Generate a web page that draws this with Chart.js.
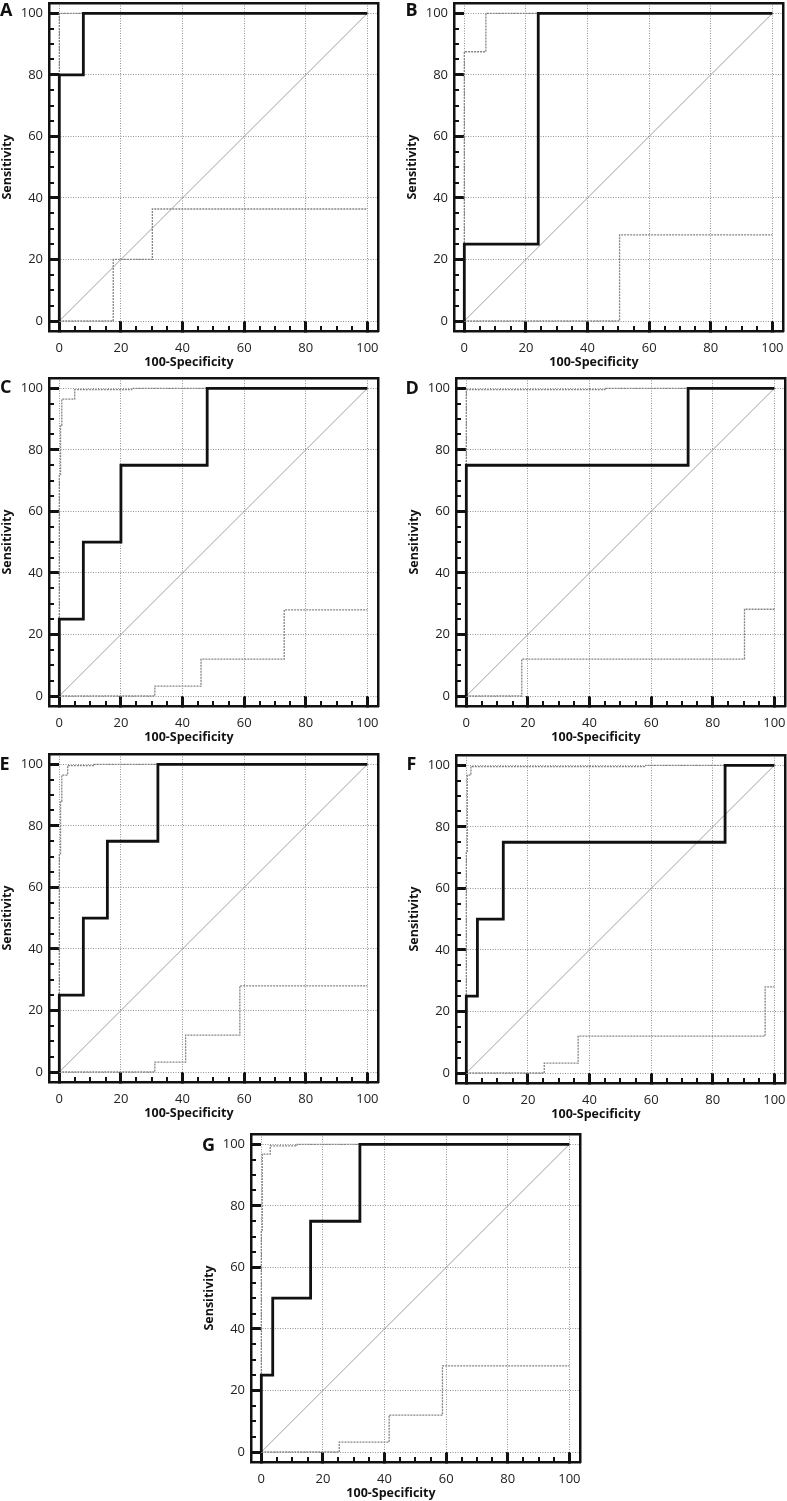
<!DOCTYPE html>
<html>
<head>
<meta charset="utf-8">
<script src="https://cdn.jsdelivr.net/npm/chart.js@4.4.1/dist/chart.umd.min.js"></script>
<style>
  html, body { margin: 0; padding: 0; background: #fff; width: 787px; height: 1501px; overflow: hidden; }
  .panel { position: absolute; }
  .tag { position: absolute; font: bold 18px/18px 'Open Sans', sans-serif; color: #111; }
</style>
</head>
<body>
<script>
// ROC points: [100-Specificity, Sensitivity]
const rocA = [[0, 0], [0, 80], [7.8, 80], [7.8, 100], [100, 100]];
const upA = [[0, 0], [0, 100], [100, 100]];
const loA = [[0, 0], [17.5, 0], [17.5, 20], [30.2, 20], [30.2, 36.4], [100, 36.4]];

const rocB = [[0, 0], [0, 25], [24, 25], [24, 100], [100, 100]];
const upB = [[0, 0], [0, 87.5], [7, 87.5], [7, 100], [100, 100]];
const loB = [[0, 0], [50.4, 0], [50.4, 28], [100, 28]];

const rocC = [[0, 0], [0, 25], [7.8, 25], [7.8, 50], [20, 50], [20, 75], [48, 75], [48, 100], [100, 100]];
const upC = [[0, 0], [0, 72], [0.4, 72], [0.4, 88], [0.8, 88], [0.8, 96.5], [5, 96.5], [5, 99.6], [23.5, 99.6], [23.5, 100], [100, 100]];
const loC = [[0, 0], [31, 0], [31, 3.2], [46, 3.2], [46, 12], [73, 12], [73, 28], [100, 28]];

const rocD = [[0, 0], [0, 75], [72, 75], [72, 100], [100, 100]];
const upD = [[0, 0], [0, 99.6], [45, 99.6], [45, 100], [100, 100]];
const loD = [[0, 0], [18, 0], [18, 12], [90.3, 12], [90.3, 28.2], [100, 28.2]];

const rocE = [[0, 0], [0, 25], [7.8, 25], [7.8, 50], [15.6, 50], [15.6, 75], [32, 75], [32, 100], [100, 100]];
const upE = [[0, 0], [0, 71], [0.4, 71], [0.4, 88], [0.8, 88], [0.8, 96.5], [2.7, 96.5], [2.7, 99.6], [11.4, 99.6], [11.4, 100], [100, 100]];
const loE = [[0, 0], [31, 0], [31, 3.2], [41, 3.2], [41, 12], [58.6, 12], [58.6, 28], [100, 28]];

const rocF = [[0, 0], [0, 25], [3.6, 25], [3.6, 50], [12, 50], [12, 75], [84, 75], [84, 100], [100, 100]];
const upF = [[0, 0], [0, 72], [0.3, 72], [0.3, 96.8], [1.5, 96.8], [1.5, 99.6], [58.2, 99.6], [58.2, 100], [100, 100]];
const loF = [[0, 0], [25.3, 0], [25.3, 3.2], [36.3, 3.2], [36.3, 12], [97, 12], [97, 28], [100, 28]];

const rocG = [[0, 0], [0, 25], [3.7, 25], [3.7, 50], [16, 50], [16, 75], [32, 75], [32, 100], [100, 100]];
const upG = [[0, 0], [0, 72], [0.3, 72], [0.3, 96.8], [2.9, 96.8], [2.9, 99.5], [11.6, 99.5], [11.6, 100], [100, 100]];
const loG = [[0, 0], [25.3, 0], [25.3, 3.2], [41.5, 3.2], [41.5, 12], [58.8, 12], [58.8, 28], [100, 28]];

const diagonal = [[0, 0], [100, 100]];

const tickValues = [0, 20, 40, 60, 80, 100];
const minorTickValues = [0, 5, 10, 15, 20, 25, 30, 35, 40, 45, 50, 55, 60, 65, 70, 75, 80, 85, 90, 95, 100];

const xTitle = '100-Specificity';
const yTitle = 'Sensitivity';

// panel placement (canvas top-left) and letter position
const panels = [
  { tag: 'A', left: 0, top: 0, tagX: 0, tagY: 0, roc: rocA, up: upA, lo: loA },
  { tag: 'B', left: 405, top: 0, tagX: 405.5, tagY: 0, roc: rocB, up: upB, lo: loB },
  { tag: 'C', left: 0, top: 375, tagX: 0, tagY: 377, roc: rocC, up: upC, lo: loC },
  { tag: 'D', left: 407, top: 375, tagX: 405.5, tagY: 378, roc: rocD, up: upD, lo: loD },
  { tag: 'E', left: 0, top: 751, tagX: -0.5, tagY: 754, roc: rocE, up: upE, lo: loE },
  { tag: 'F', left: 407, top: 752, tagX: 406.5, tagY: 754, roc: rocF, up: upF, lo: loF },
  { tag: 'G', left: 202, top: 1131, tagX: 202, tagY: 1135, roc: rocG, up: upG, lo: loG }
];

Chart.defaults.font.family = "'Open Sans', sans-serif";
Chart.defaults.color = '#222';

const X_MIN = -3.35, X_MAX = 103.45;
const Y_MIN = -3.25, Y_MAX = 103.35;

// fija el tamaño de cada eje para que el área del gráfico coincida con el marco
function boxSize(size) {
    return function (scale) {
        if (scale.isHorizontal()) {
            scale.height = size;
        } else {
            scale.width = size;
        }
        scale.paddingLeft = scale.paddingRight = scale.paddingTop = scale.paddingBottom = 0;
    };
}

function setTicks(values) {
    return function (scale) {
        scale.ticks = values.map(v => ({ value: v }));
    };
}

function toPoints(list) {
    return list.map(p => ({ x: p[0], y: p[1] }));
}

function buildScales() {
    const gridMajor = {
        color: '#929292',
        lineWidth: 1,
        tickLength: -10,
        tickWidth: 3,
        tickColor: '#111'
    };
    const gridMinor = {
        drawOnChartArea: false,
        lineWidth: 0,
        tickLength: -5,
        tickWidth: 2,
        tickColor: '#111'
    };
    const frameOnly = {
        ticks: { display: false },
        grid: { drawOnChartArea: false, drawTicks: false },
        border: { display: true, color: '#111', width: 2.5 },
        afterBuildTicks: setTicks([])
    };
    return {
        x: {
            type: 'linear', position: 'bottom', weight: 1,
            min: X_MIN, max: X_MAX,
            afterBuildTicks: setTicks(tickValues),
            ticks: { padding: 19, font: { size: 13 }, color: '#222', autoSkip: false, maxRotation: 0 },
            grid: gridMajor,
            border: { display: true, color: '#111', width: 2.5, dash: [1, 1.5] },
            afterFit: boxSize(24)
        },
        xMinor: {
            type: 'linear', position: 'bottom', weight: 0,
            min: X_MIN, max: X_MAX,
            afterBuildTicks: setTicks(minorTickValues),
            ticks: { display: false },
            grid: gridMinor,
            border: { display: false },
            afterFit: boxSize(0)
        },
        xTop: Object.assign({ type: 'linear', position: 'top', min: X_MIN, max: X_MAX, afterFit: boxSize(0) }, frameOnly),
        y: {
            type: 'linear', position: 'left', weight: 1,
            min: Y_MIN, max: Y_MAX,
            afterBuildTicks: setTicks(tickValues),
            ticks: { padding: 16, font: { size: 13 }, color: '#222', autoSkip: false },
            grid: gridMajor,
            border: { display: true, color: '#111', width: 2.5, dash: [1, 1.5] },
            title: {
                display: true, text: yTitle, color: '#111',
                font: { size: 12.5, weight: 'bold' },
                padding: { top: 0, bottom: 0 }
            },
            afterFit: boxSize(49)
        },
        yMinor: {
            type: 'linear', position: 'left', weight: 0,
            min: Y_MIN, max: Y_MAX,
            afterBuildTicks: setTicks(minorTickValues),
            ticks: { display: false },
            grid: gridMinor,
            border: { display: false },
            afterFit: boxSize(0)
        },
        yRight: Object.assign({ type: 'linear', position: 'right', min: Y_MIN, max: Y_MAX, afterFit: boxSize(0) }, frameOnly)
    };
}

panels.forEach(function (p) {
    const holder = document.createElement('div');
    holder.className = 'panel';
    holder.style.left = p.left + 'px';
    holder.style.top = p.top + 'px';
    const canvas = document.createElement('canvas');
    canvas.width = 386;
    canvas.height = 372;
    holder.appendChild(canvas);
    document.body.appendChild(holder);

    const tag = document.createElement('div');
    tag.className = 'tag';
    tag.textContent = p.tag;
    tag.style.left = p.tagX + 'px';
    tag.style.top = p.tagY + 'px';
    document.body.appendChild(tag);

    new Chart(canvas.getContext('2d'), {
        type: 'line',
        data: {
            datasets: [
                {
                    label: 'ROC',
                    data: toPoints(p.roc),
                    borderColor: '#111',
                    borderWidth: 2.8,
                    pointRadius: 0,
                    tension: 0
                },
                {
                    label: 'Upper',
                    data: toPoints(p.up),
                    borderColor: '#858585',
                    borderWidth: 1.3,
                    borderDash: [2, 1],
                    pointRadius: 0,
                    tension: 0
                },
                {
                    label: 'Lower',
                    data: toPoints(p.lo),
                    borderColor: '#858585',
                    borderWidth: 1.3,
                    borderDash: [2, 1],
                    pointRadius: 0,
                    tension: 0
                },
                {
                    label: 'Reference',
                    data: toPoints(diagonal),
                    borderColor: '#a0a0a0',
                    borderWidth: 1,
                    pointRadius: 0,
                    tension: 0
                }
            ]
        },
        options: {
            responsive: false,
            animation: false,
            layout: { padding: { top: 3, right: 8, bottom: 0, left: 0 } },
            scales: buildScales(),
            plugins: {
                legend: { display: false },
                tooltip: { enabled: false },
                title: {
                    display: true,
                    text: xTitle,
                    position: 'bottom',
                    color: '#111',
                    font: { size: 12.5, weight: 'bold' },
                    padding: { top: 0, bottom: 2 }
                }
            }
        }
    });
});
</script>
</body>
</html>
